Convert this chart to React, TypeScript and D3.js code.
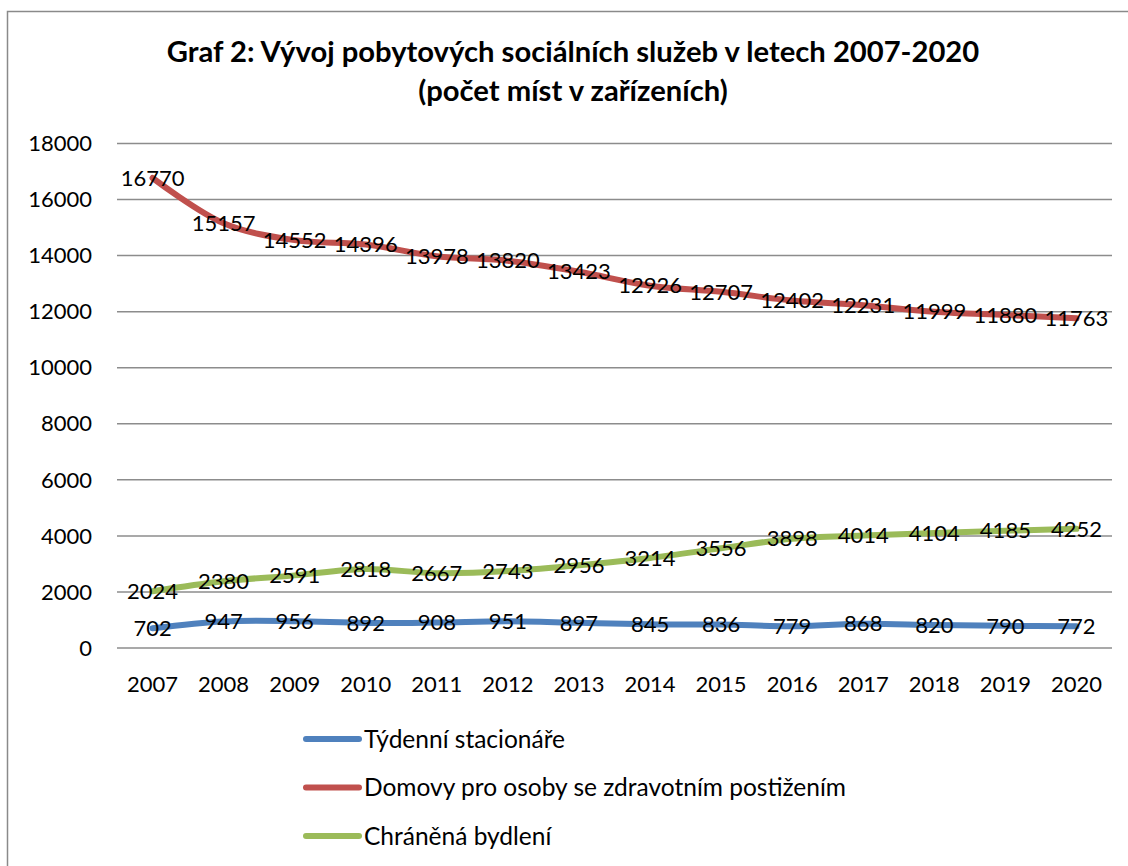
import React from 'react';
import * as d3 from 'd3';

const years = ['2007', '2008', '2009', '2010', '2011', '2012', '2013', '2014', '2015', '2016', '2017', '2018', '2019', '2020'];
const tydenni = [702, 947, 956, 892, 908, 951, 897, 845, 836, 779, 868, 820, 790, 772];
const domovy = [16770, 15157, 14552, 14396, 13978, 13820, 13423, 12926, 12707, 12402, 12231, 11999, 11880, 11763];
const chranena = [2024, 2380, 2591, 2818, 2667, 2743, 2956, 3214, 3556, 3898, 4014, 4104, 4185, 4252];
const yTicks = [0, 2000, 4000, 6000, 8000, 10000, 12000, 14000, 16000, 18000];

const series = [
  { name: 'Týdenní stacionáře', values: tydenni, color: '#4F81BD' },
  { name: 'Domovy pro osoby se zdravotním postižením', values: domovy, color: '#C0504D' },
  { name: 'Chráněná bydlení', values: chranena, color: '#9BBB59' },
];

const font = 'Lato, "Open Sans", sans-serif';

export default function App() {
  const width = 1128, height = 866;
  const plot = { left: 117, right: 1112, top: 143.5, bottom: 648 };

  const x = d3.scaleBand().domain(years).range([plot.left, plot.right]);
  const y = d3.scaleLinear().domain([0, 18000]).range([plot.bottom, plot.top]);
  const cx = (yr: string) => (x(yr) as number) + x.bandwidth() / 2;

  const line = d3.line<number>()
    .x((d, i) => cx(years[i]))
    .y(d => y(d))
    .curve(d3.curveCatmullRom.alpha(0.5));

  return (
    <svg width={width} height={height} style={{ position: 'absolute', left: 0, top: 0, background: '#fff' }}
      fontFamily={font}>
      <rect x={7.5} y={11.5} width={1140} height={880} fill="#fff" stroke="#8a8a8a" strokeWidth={1.5} />

      <text x={573} y={62} textAnchor="middle" fontSize={29.2} fontWeight="bold">
        Graf 2: Vývoj pobytových sociálních služeb v letech 2007-2020
      </text>
      <text x={573} y={101} textAnchor="middle" fontSize={29.2} fontWeight="bold">
        (počet míst v zařízeních)
      </text>

      {yTicks.map(t => (
        <g key={t}>
          <line x1={plot.left} x2={plot.right} y1={y(t)} y2={y(t)} stroke="#8c8c8c" strokeWidth={1.5} />
          <text x={92} y={y(t)} dy="0.35em" textAnchor="end" fontSize={22}>{t}</text>
        </g>
      ))}

      {years.map(yr => (
        <text key={yr} x={cx(yr)} y={692} textAnchor="middle" fontSize={22}>{yr}</text>
      ))}

      {series.map(s => (
        <path key={s.name} d={line(s.values) || ''} fill="none" stroke={s.color} strokeWidth={6} strokeLinecap="round" />
      ))}

      {series.map(s => s.values.map((v, i) => (
        <text key={s.name + i} x={cx(years[i])} y={y(v)} dy="0.35em" textAnchor="middle" fontSize={22}>{v}</text>
      )))}

      {series.map((s, i) => {
        const ly = 739 + i * 48.5;
        return (
          <g key={s.name}>
            <line x1={306} x2={359} y1={ly} y2={ly} stroke={s.color} strokeWidth={6} strokeLinecap="round" />
            <text x={364} y={ly} dy="0.35em" fontSize={24.5}>{s.name}</text>
          </g>
        );
      })}
    </svg>
  );
}
